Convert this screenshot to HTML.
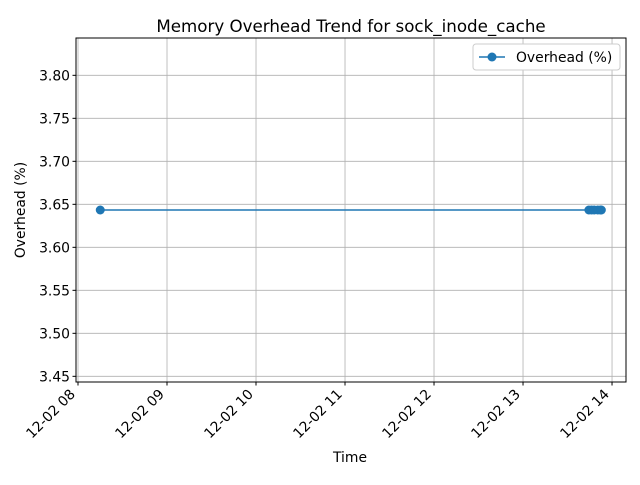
<!DOCTYPE html>
<html><head><meta charset="utf-8"><style>
body{margin:0;background:#fff}
text{font-family:"DejaVu Sans","Liberation Sans",sans-serif;fill:#000}
</style></head><body>
<svg id="chart" width="640" height="480" xmlns="http://www.w3.org/2000/svg">
<rect width="640" height="480" fill="#fff"/>
<g id="grid"></g>
<g id="yticks"></g>
<g id="xticks"></g>
<g id="series"></g>
<rect x="76" y="38" width="550" height="344" fill="none" stroke="#000" stroke-width="1"/>
<text x="351" y="32" font-size="16.7" text-anchor="middle">Memory Overhead Trend for sock_inode_cache</text>
<text x="350" y="462" font-size="13.9" text-anchor="middle">Time</text>
<text transform="translate(25,210) rotate(-90)" font-size="13.9" text-anchor="middle">Overhead (%)</text>
<g>
<rect x="473" y="44" width="147" height="26" rx="3" fill="#fff" stroke="#ccc"/>
<line x1="479" y1="57" x2="505" y2="57" stroke="#1f77b4" stroke-width="1.5"/>
<circle cx="492" cy="57" r="4.5" fill="#1f77b4"/>
<text x="516" y="62" font-size="13.9">Overhead (%)</text>
</g>
</svg>
<script>
const timesHours=[8.25,13.74,13.77,13.80,13.84,13.87,13.88];
const overheadValues=[3.6434,3.6434,3.6434,3.6434,3.6434,3.6434,3.6434];
const yTickValues=[3.45,3.50,3.55,3.60,3.65,3.70,3.75,3.80];
const xTickHours=[8,9,10,11,12,13,14];
const xTickLabels=["12-02 08","12-02 09","12-02 10","12-02 11","12-02 12","12-02 13","12-02 14"];
const L=76,R=626,T=38,B=382,NS="http://www.w3.org/2000/svg";
const xmin=7.9775,xmax=14.157,ymin=3.4434,ymax=3.8434;
const X=h=>L+(h-xmin)/(xmax-xmin)*(R-L);
const Y=v=>B-(v-ymin)/(ymax-ymin)*(B-T);
function mk(tag,attrs,parent){const e=document.createElementNS(NS,tag);for(const k in attrs)e.setAttribute(k,attrs[k]);parent.appendChild(e);return e;}
const grid=document.getElementById('grid'),yt=document.getElementById('yticks'),xt=document.getElementById('xticks'),ser=document.getElementById('series');
yTickValues.forEach(v=>{const y=Y(v);
let g=mk('line',{x1:L,x2:R,y1:y,y2:y,stroke:'#b0b0b0','stroke-width':0.8},grid);


let t=mk('line',{x1:L-3.5,x2:L,y1:y,y2:y,stroke:'#000'},yt);


let tx=mk('text',{x:L-6,y:y+5,'font-size':13.9,'text-anchor':'end'},yt);tx.textContent=v.toFixed(2);


});
xTickHours.forEach((h,i)=>{const x=X(h);
let g=mk('line',{x1:x,x2:x,y1:T,y2:B,stroke:'#b0b0b0','stroke-width':0.8},grid);


let t=mk('line',{x1:x,x2:x,y1:B,y2:B+3.5,stroke:'#000'},xt);


let tx=mk('text',{transform:`translate(${x-2},${B+13}) rotate(-45)`,'font-size':13.9,'text-anchor':'end'},xt);tx.textContent=xTickLabels[i];


});
const pts=timesHours.map((h,i)=>X(h)+','+Y(overheadValues[i])).join(' ');
let pl=mk('polyline',{points:pts,fill:'none',stroke:'#1f77b4','stroke-width':1.5},ser);


timesHours.forEach((h,i)=>{let c=mk('circle',{cx:X(h),cy:Y(overheadValues[i]),r:4.5,fill:'#1f77b4'},ser);


});
</script>
</body></html>
